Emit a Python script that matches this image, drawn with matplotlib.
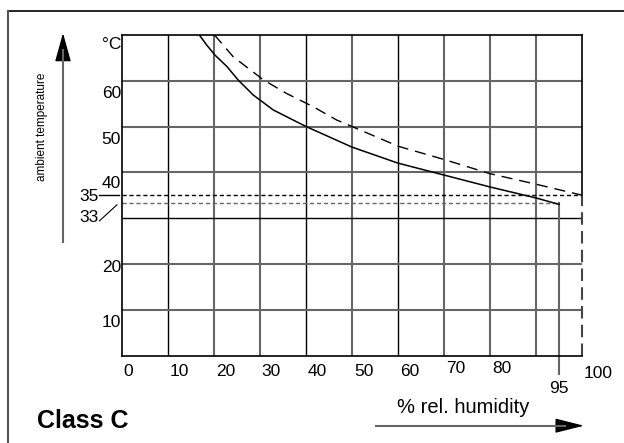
import numpy as np
import matplotlib
matplotlib.use("Agg")
import matplotlib.pyplot as plt
from matplotlib.lines import Line2D
from matplotlib.patches import FancyArrowPatch

plt.rcParams['font.family'] = ['Liberation Sans', 'DejaVu Sans']

# curves
solid_rh = [16.8, 18.4, 20.2, 22.8, 25.3, 28.5, 32.9, 40, 50, 60, 70, 80, 90, 95]
solid_t = [70, 67.8, 65.6, 63.1, 60.1, 56.9, 53.6, 50, 45.5, 42.0, 39.4, 36.8, 34.4, 33]
dash_rh = [20.1, 24.2, 28.9, 30.7, 35.8, 41.6, 46.7, 50, 60, 70, 80, 90, 100]
dash_t = [70, 65.2, 61.6, 60.2, 57.2, 54.3, 51.4, 50.0, 45.7, 42.8, 39.7, 37.4, 35]

x_ticks = [0, 10, 20, 30, 40, 50, 60, 70, 80, 100]
x_grid = [10, 20, 30, 40, 50, 60, 70, 80, 90]
x_grid_dark = [10, 40, 60]
y_grid = [10, 20, 30, 40, 50, 60]
y_grid_dark = [30]
y_labels = ['10', '20', '40', '50', '60']
y_label_pos = [7.3, 19.3, 37.6, 47.1, 57.3]

W, H = 624, 443
fig = plt.figure(figsize=(W / 100, H / 100), dpi=100)
ax = fig.add_axes([122 / W, (H - 355.5) / H, 460 / W, 320.6 / H])
ax.set_xlim(0, 100)
ax.set_ylim(0, 70)
ax.set_xticks([])
ax.set_yticks([])
ax.spines['right'].set_visible(False)
for s in ['left', 'bottom', 'top']:
    ax.spines[s].set_linewidth(1.2)

# grid
for g in x_grid:
    dark = g in x_grid_dark
    ax.axvline(g, color='black' if dark else '#666666', lw=1.0 if dark else 1.5, zorder=1)
for g in y_grid:
    dark = g in y_grid_dark
    ax.axhline(g, color='black' if dark else '#666666', lw=1.0 if dark else 1.5, zorder=1)

# right edge: solid above 35, dashed below
ax.plot([100, 100], [35, 70], color='black', lw=1.2, clip_on=False)
ax.plot([100, 100], [0, 35], color='#444444', lw=1.5, ls=(0, (6, 3)), clip_on=False)

# dotted reference levels
ax.plot([0, 100], [35, 35], color='black', lw=1.0, ls=(0, (3, 2)), zorder=2)
ax.plot([0, 95], [33.4, 33.4], color='#666666', lw=1.0, ls=(0, (3, 2)), zorder=2)
ax.plot([95, 95], [-4, 33.4], color='#666666', lw=1.5, clip_on=False, zorder=2)

# curves
ax.plot(solid_rh, solid_t, color='black', lw=1.1, zorder=3)
ax.plot(dash_rh, dash_t, color='black', lw=1.0, ls=(0, (8, 5)), zorder=3)

# x tick labels
for v in x_ticks:
    yb = -4.5
    if v in (70, 80):
        yb = -3.8
    if v == 100:
        yb = -4.9
    ax.text(v + 0.4, yb, str(v), ha='left', va='baseline', fontsize=12.5, clip_on=False)
ax.text(95, -8.2, '95', ha='center', va='baseline', fontsize=12.5, clip_on=False)

# y tick labels
for lab, pos in zip(y_labels, y_label_pos):
    ax.text(-0.2, pos, lab, ha='right', va='center', fontsize=12.5, clip_on=False)
ax.text(-0.2, 67.9, '°C', ha='right', va='center', fontsize=12.5, clip_on=False)
ax.text(-5.0, 34.8, '35', ha='right', va='center', fontsize=12.5, clip_on=False)
ax.text(-5.0, 30.2, '33', ha='right', va='center', fontsize=12.5, clip_on=False)
ax.plot([-5.0, -0.65], [35, 35], color='black', lw=1.0, clip_on=False)
ax.plot([-4.9, -1.1], [29.4, 32.9], color='black', lw=0.8, clip_on=False)

# outer frame
fig.add_artist(Line2D([8 / W, 1], [1 - 11 / H, 1 - 11 / H], color='black', lw=1.2))
fig.add_artist(Line2D([8 / W, 8 / W], [0, 1 - 11 / H], color='#555555', lw=1.5))

# axis arrows: gray shaft, black head
fig.add_artist(Line2D([63 / W, 63 / W], [1 - 242 / H, 1 - 50 / H], color='#666666', lw=1.5))
fig.add_artist(FancyArrowPatch((63 / W, 1 - 60 / H), (63 / W, 1 - 33 / H),
                               transform=fig.transFigure, arrowstyle='-|>,head_length=1.8,head_width=0.5',
                               mutation_scale=10, color='black', lw=1.0, shrinkA=0, shrinkB=0))
fig.add_artist(Line2D([376 / W, 565 / W], [17.3 / H, 17.3 / H], color='#666666', lw=1.5))
fig.add_artist(FancyArrowPatch((555 / W, 17.3 / H), (584 / W, 17.3 / H),
                               transform=fig.transFigure, arrowstyle='-|>,head_length=1.8,head_width=0.45',
                               mutation_scale=10, color='black', lw=1.0, shrinkA=0, shrinkB=0))

fig.text(41.7 / W, 1 - 127 / H, 'ambient temperature', rotation=90, ha='center', va='center', fontsize=8.5)
fig.text(396.7 / W, 30 / H, '% rel. humidity', ha='left', va='baseline', fontsize=14.5)
fig.text(36.7 / W, 14.7 / H, 'Class C', ha='left', va='baseline', fontsize=18, fontweight='bold')

fig.savefig('out.png', dpi=100)
